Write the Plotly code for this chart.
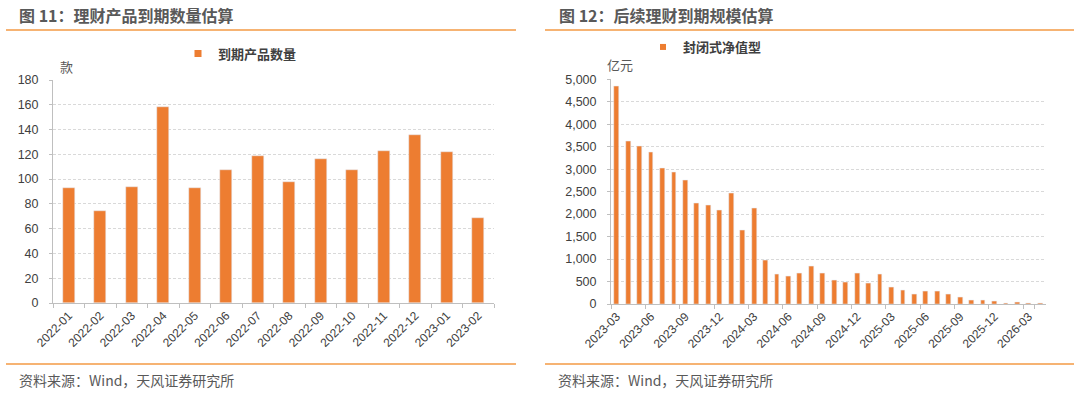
import plotly.graph_objects as go

W, H = 1080, 393

# ---------------- data ----------------
left_title = "图 11：理财产品到期数量估算"
left_series = "到期产品数量"
left_unit = "款"
left_months = ["2022-01", "2022-02", "2022-03", "2022-04", "2022-05", "2022-06", "2022-07",
               "2022-08", "2022-09", "2022-10", "2022-11", "2022-12", "2023-01", "2023-02"]
left_counts = [93, 74, 94, 158, 93, 107, 119, 98, 116, 107, 123, 136, 122, 69]

right_title = "图 12：后续理财到期规模估算"
right_series = "封闭式净值型"
right_unit = "亿元"
right_months = ["2023-03", "2023-04", "2023-05", "2023-06", "2023-07", "2023-08", "2023-09",
                "2023-10", "2023-11", "2023-12", "2024-01", "2024-02", "2024-03", "2024-04",
                "2024-05", "2024-06", "2024-07", "2024-08", "2024-09", "2024-10", "2024-11",
                "2024-12", "2025-01", "2025-02", "2025-03", "2025-04", "2025-05", "2025-06",
                "2025-07", "2025-08", "2025-09", "2025-10", "2025-11", "2025-12", "2026-01",
                "2026-02", "2026-03", "2026-04"]
right_values = [4840, 3620, 3500, 3380, 3020, 2930, 2750, 2240, 2200, 2090, 2470, 1650, 2120, 970,
                655, 615, 690, 830, 680, 520, 480, 690, 460, 660, 380, 310, 220, 290, 290, 220,
                150, 80, 80, 50, 25, 40, 25, 20]
right_tick_labels = right_months[::3]

source_text = "资料来源：Wind，天风证券研究所"

# ---------------- style ----------------
BAR = "#ED7D31"
RULE = "#F39A45"
TXT = "#404040"
GREY = "#595959"
GRID = "#D9D9D9"
AXL = "#BFBFBF"
CJK = "Noto Sans CJK SC"
NUM = "Liberation Sans, Arial, sans-serif"


def px(x):
    return x / W


def py(y):
    return 1 - y / H


fig = go.Figure()

fig.add_trace(go.Bar(x=left_months, y=left_counts, marker_color=BAR, width=0.38,
                     xaxis="x", yaxis="y", showlegend=False, name=left_series))
fig.add_trace(go.Scatter(x=[None], y=[None], mode="markers", name=left_series,
                         marker=dict(symbol="square", size=7, color=BAR),
                         xaxis="x", yaxis="y", legend="legend", showlegend=True))

fig.add_trace(go.Bar(x=right_months, y=right_values, marker_color=BAR, width=0.42,
                     xaxis="x2", yaxis="y2", showlegend=False, name=right_series))
fig.add_trace(go.Scatter(x=[None], y=[None], mode="markers", name=right_series,
                         marker=dict(symbol="square", size=6, color=BAR),
                         xaxis="x2", yaxis="y2", legend="legend2", showlegend=True))

xcommon = dict(type="category", showgrid=False, zeroline=False, showline=True,
               linecolor=AXL, linewidth=1, ticks="outside", ticklen=4, tickcolor=AXL,
               tickson="boundaries", tickangle=-45, automargin=False,
               tickfont=dict(family=NUM, size=12, color=TXT))
ycommon = dict(showgrid=True, gridcolor=GRID, griddash="3px,2px", gridwidth=1,
               zeroline=False, showline=True, linecolor=AXL, linewidth=1,
               ticks="outside", ticklen=3, tickcolor=AXL, ticklabelstandoff=8,
               automargin=False,
               tickfont=dict(family=NUM, size=12.5, color=TXT))

fig.update_layout(
    width=W, height=H,
    margin=dict(l=0, r=0, t=0, b=0, autoexpand=False),
    paper_bgcolor="white", plot_bgcolor="white",
    bargap=0,
    xaxis=dict(xcommon, domain=[px(53), px(494)], anchor="y",
               categoryorder="array", categoryarray=left_months),
    yaxis=dict(ycommon, domain=[py(303), py(80)], anchor="x", range=[0, 180], dtick=20),
    xaxis2=dict(xcommon, domain=[px(611), px(1046)], anchor="y2",
                categoryorder="array", categoryarray=right_months,
                tickmode="array", tickvals=right_tick_labels, ticktext=right_tick_labels),
    yaxis2=dict(ycommon, domain=[py(304), py(79.3)], anchor="x2", range=[0, 5000],
                dtick=500, tickformat=","),
    legend=dict(x=px(178), y=py(53.5), xanchor="left", yanchor="middle",
                bgcolor="rgba(0,0,0,0)", borderwidth=0,
                font=dict(family=CJK, size=13, color=TXT, weight="bold")),
    legend2=dict(x=px(643), y=py(47), xanchor="left", yanchor="middle",
                 bgcolor="rgba(0,0,0,0)", borderwidth=0,
                 font=dict(family=CJK, size=13, color=TXT, weight="bold")),
)

annotations = [
    dict(text=left_title, x=px(17), y=py(15), xanchor="left", yanchor="middle",
         font=dict(family=CJK, size=16, color=GREY, weight="bold")),
    dict(text=right_title, x=px(557), y=py(15), xanchor="left", yanchor="middle",
         font=dict(family=CJK, size=16, color=GREY, weight="bold")),
    dict(text=left_unit, x=px(66), y=py(66), xanchor="center", yanchor="middle",
         font=dict(family=CJK, size=13, color=GREY)),
    dict(text=right_unit, x=px(620), y=py(64), xanchor="center", yanchor="middle",
         font=dict(family=CJK, size=13, color=GREY)),
    dict(text=source_text, x=px(17), y=py(380), xanchor="left", yanchor="middle",
         font=dict(family=CJK, size=14, color=GREY)),
    dict(text=source_text, x=px(556), y=py(380), xanchor="left", yanchor="middle",
         font=dict(family=CJK, size=14, color=GREY)),
]
for a in annotations:
    a.update(xref="paper", yref="paper", showarrow=False)
fig.update_layout(annotations=annotations)

shapes = []
for (x0, x1) in [(6, 516), (545, 1074)]:
    for yy in (30, 364):
        shapes.append(dict(type="line", xref="paper", yref="paper",
                           x0=px(x0), x1=px(x1), y0=py(yy), y1=py(yy),
                           line=dict(color=RULE, width=1.5)))
fig.update_layout(shapes=shapes)

# remove the default 8px page margin so the 1080x393 figure fills the window
fig.write_html("out.html",
               config={"displayModeBar": False},
               post_script="document.body.style.margin='0px';document.body.style.overflow='hidden';")
